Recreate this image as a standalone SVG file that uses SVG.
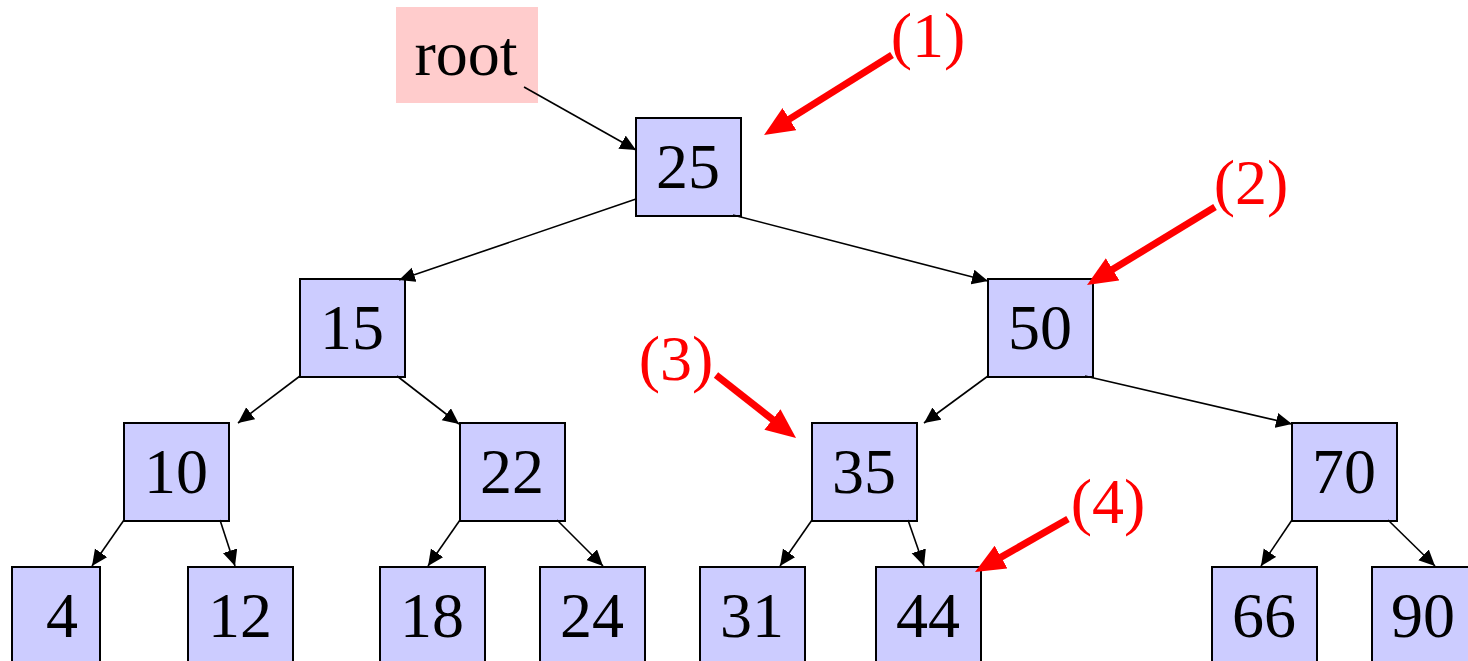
<svg xmlns="http://www.w3.org/2000/svg" width="1468" height="661" viewBox="0 0 1468 661">
<defs>
<marker id="ah" markerUnits="userSpaceOnUse" markerWidth="18" markerHeight="16" refX="16" refY="7.5" orient="auto">
<path d="M0,0 L16,7.5 L0,15 z" fill="#000"/>
</marker>
<marker id="rh" markerUnits="userSpaceOnUse" markerWidth="32" markerHeight="28" refX="10" refY="13" orient="auto">
<path d="M0,0 L30,13 L0,26 z" fill="#ff0000"/>
</marker>
<style>
.n rect{fill:#ccccff;stroke:#000;stroke-width:2}
text{font-family:"Liberation Serif","Times New Roman",serif;font-size:64px;text-anchor:middle}
.lbl{fill:#ff0000}
.e line{stroke:#000;stroke-width:1.6;marker-end:url(#ah)}
.r line{stroke:#ff0000;stroke-width:7;marker-end:url(#rh)}
</style>
</defs>
<rect width="1468" height="661" fill="#fff"/>
<g id="root"><rect x="396" y="7" width="142" height="96" fill="#ffcccc"/><text x="466" y="75">root</text></g>
<g id="n25" class="n"><rect x="636" y="118" width="105" height="98"/><text x="688" y="188">25</text></g>
<g id="n15" class="n"><rect x="300" y="279" width="105" height="98"/><text x="352" y="349">15</text></g>
<g id="n50" class="n"><rect x="988" y="279" width="105" height="98"/><text x="1040" y="349">50</text></g>
<g id="n10" class="n"><rect x="124" y="423" width="105" height="98"/><text x="176" y="493">10</text></g>
<g id="n22" class="n"><rect x="460" y="423" width="105" height="98"/><text x="512" y="493">22</text></g>
<g id="n35" class="n"><rect x="812" y="423" width="105" height="98"/><text x="864" y="493">35</text></g>
<g id="n70" class="n"><rect x="1292" y="423" width="105" height="98"/><text x="1344" y="493">70</text></g>
<g id="n4" class="n"><rect x="12" y="567" width="88" height="110"/><text x="62" y="637">4</text></g>
<g id="n12" class="n"><rect x="188" y="567" width="105" height="110"/><text x="240" y="637">12</text></g>
<g id="n18" class="n"><rect x="380" y="567" width="105" height="110"/><text x="432" y="637">18</text></g>
<g id="n24" class="n"><rect x="540" y="567" width="105" height="110"/><text x="592" y="637">24</text></g>
<g id="n31" class="n"><rect x="700" y="567" width="105" height="110"/><text x="752" y="637">31</text></g>
<g id="n44" class="n"><rect x="876" y="567" width="105" height="110"/><text x="928" y="637">44</text></g>
<g id="n66" class="n"><rect x="1212" y="567" width="105" height="110"/><text x="1264" y="637">66</text></g>
<g id="n90" class="n"><rect x="1372" y="567" width="105" height="110"/><text x="1423" y="637">90</text></g>
<g id="edges" class="e">
<line x1="524" y1="87" x2="636" y2="150"/>
<line x1="636" y1="199" x2="399" y2="280"/>
<line x1="733" y1="215" x2="988" y2="281"/>
<line x1="300" y1="376" x2="238" y2="423"/>
<line x1="397" y1="376" x2="459" y2="424"/>
<line x1="988" y1="376" x2="924" y2="423"/>
<line x1="1085" y1="376" x2="1292" y2="424"/>
<line x1="124" y1="520" x2="92" y2="566"/>
<line x1="220" y1="520" x2="235" y2="566"/>
<line x1="460" y1="520" x2="428" y2="566"/>
<line x1="557" y1="520" x2="603" y2="566"/>
<line x1="812" y1="520" x2="780" y2="566"/>
<line x1="908" y1="520" x2="924" y2="566"/>
<line x1="1292" y1="520" x2="1261" y2="566"/>
<line x1="1388" y1="520" x2="1435" y2="566"/>
</g>
<g id="markers" class="r">
<line x1="892" y1="55" x2="781" y2="124.4"/>
<line x1="1215" y1="207" x2="1104.1" y2="274.6"/>
<line x1="716" y1="375" x2="780.3" y2="425.6"/>
<line x1="1068" y1="519" x2="992.4" y2="562.1"/>
</g>
<g id="labels">
<text class="lbl" x="928" y="57">(1)</text>
<text class="lbl" x="1251" y="204">(2)</text>
<text class="lbl" x="676" y="380">(3)</text>
<text class="lbl" x="1108" y="523">(4)</text>
</g>
</svg>
